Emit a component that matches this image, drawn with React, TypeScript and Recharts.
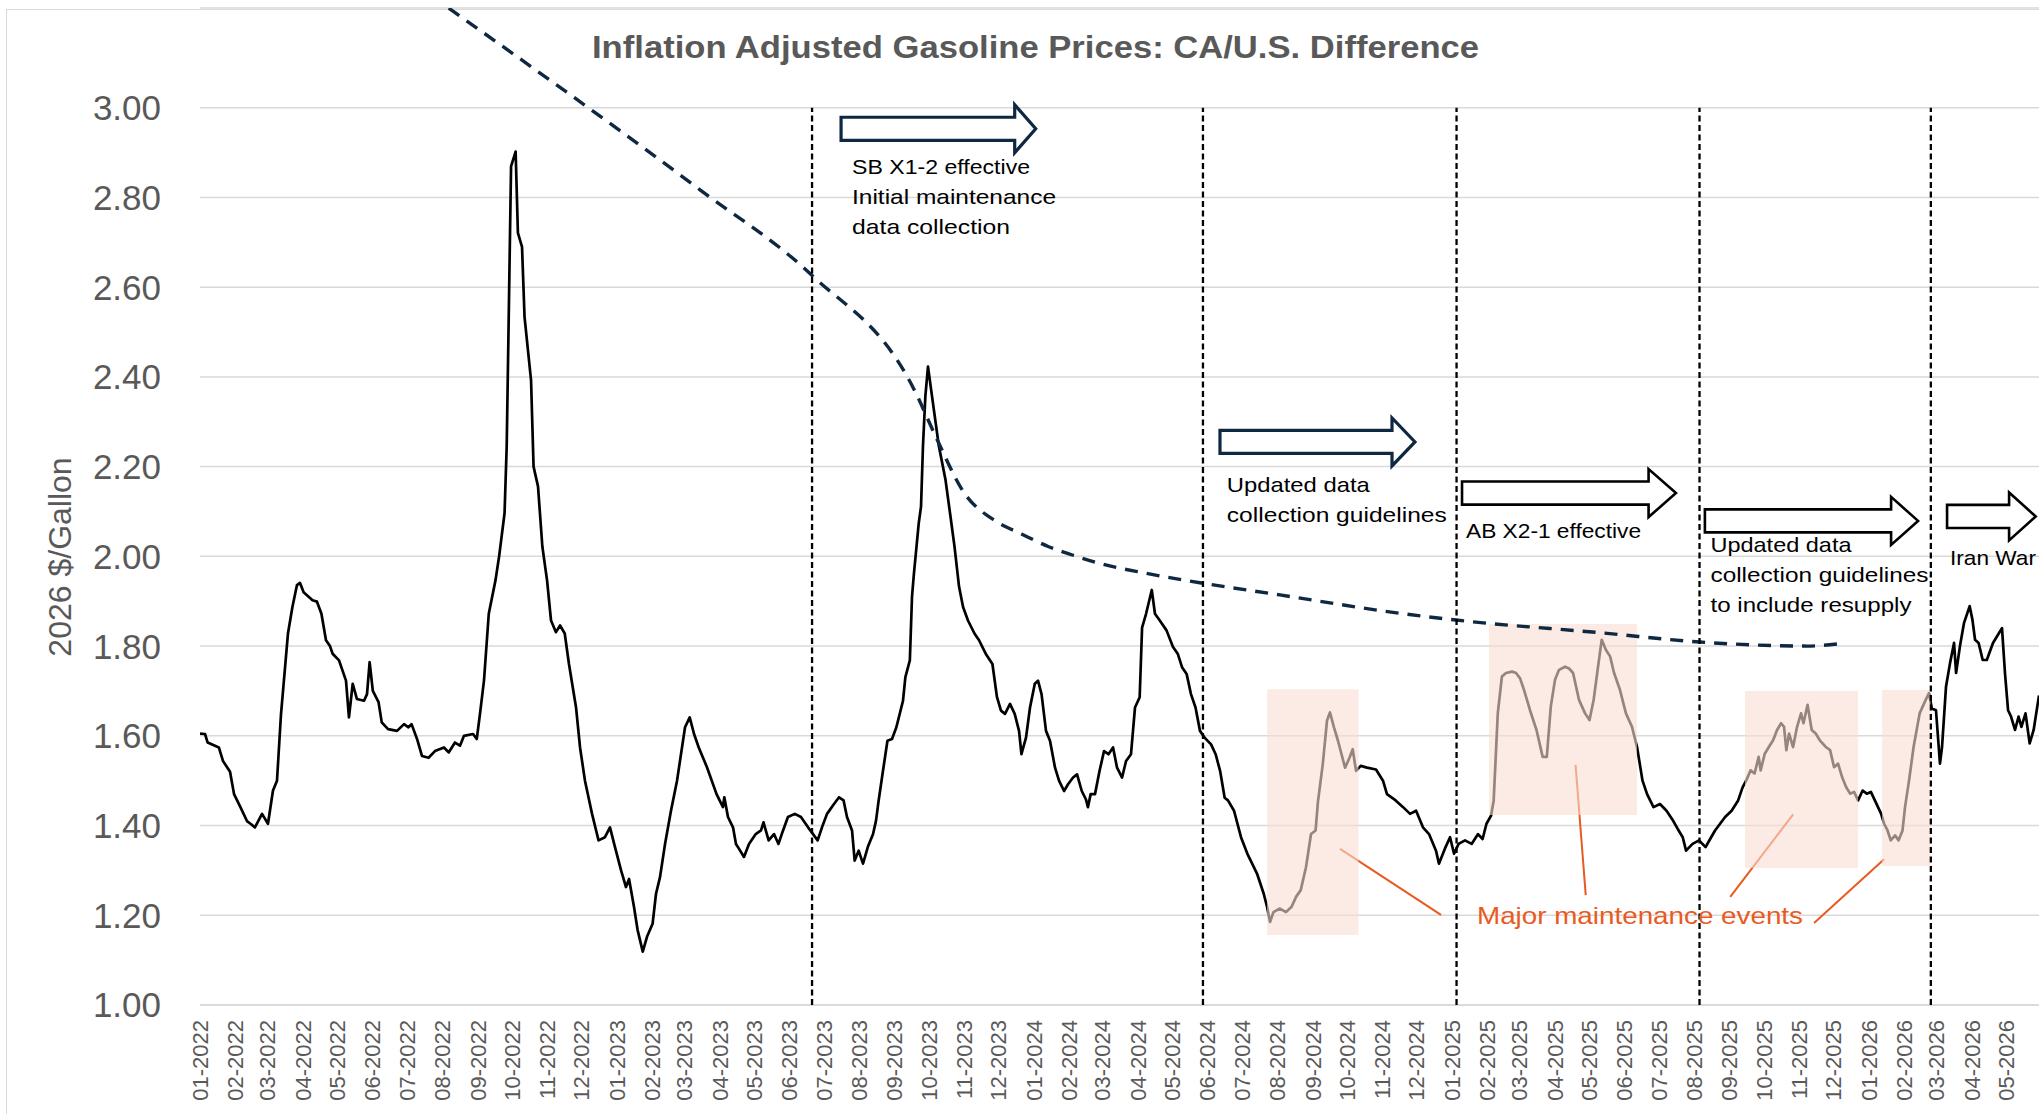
import React from "react";
import {
  LineChart,
  Line,
  XAxis,
  YAxis,
  CartesianGrid,
  ReferenceLine,
  ReferenceArea,
  ReferenceDot,
} from "recharts";

// x values are days since 2022-01-01
const gapDays = [
  0, 4.4, 6.7, 16.5, 20.1, 26.3, 29.8, 35.6, 41.1, 44.2, 48.1, 54.3, 59.5, 63.9, 67.4, 70.9, 77, 80.9, 84.9, 87.5,
  90.7, 98.5, 102.4, 106.3, 110.3, 113.8, 116.1, 121.7, 127.8, 130.4, 133.7, 137.4, 143.6, 146.2, 148.5, 151.3,
  156.3, 159.1, 164.6, 172.5, 178.6, 182.5, 185.2, 190, 194.3, 200.1, 205.7, 213.6, 217.7, 223.2, 227.6, 231.1,
  239, 242.3, 245.1, 248.6, 252.8, 258.7, 261.8, 266.6, 268.5, 270.5, 272.3, 276.3, 278.3, 281.9, 284.1, 289.8,
  292, 295.9, 299.7, 303.8, 307.3, 311.6, 315.2, 319.3, 323, 329.2, 332.7, 337, 343.2, 348.9, 354.5, 358.9,
  363.3, 368.6, 372.9, 375.6, 379.9, 383.1, 387.6, 391.3, 396.2, 399.2, 402.7, 407.1, 412.3, 417.6, 424.6, 428.7,
  432.5, 436.6, 443.8, 452.2, 457.8, 459, 462.2, 466.6, 469.2, 471.9, 476.2, 480.6, 486.5, 491.1, 493.3, 497.8,
  502.5, 506.4, 509.3, 514.7, 520.7, 526.1, 532.3, 536.6, 540.7, 544.5, 548.9, 555, 559.4, 563.4, 566.4, 570.8,
  573.1, 576.6, 580.4, 584.6, 589.2, 591.8, 594, 597.9, 601.8, 605.8, 609.6, 615.4, 617.5, 621.4, 623.3, 625,
  629.2, 631.2, 632.9, 635, 637.3, 640.8, 646.8, 652.6, 656.6, 660.5, 664.5, 668, 672.3, 678, 682, 687.8, 693.7,
  697.7, 701.2, 704.7, 709.1, 713.2, 717, 719.1, 723.1, 726.6, 730.8, 733.6, 736.7, 740.6, 744.1, 748.5, 752,
  756.4, 759.9, 764.3, 767.8, 771.9, 775.6, 777.3, 779.7, 783.5, 787.5, 791.4, 795.3, 799.3, 802.8, 807.2, 810.7,
  815, 818.5, 822.6, 824.7, 828.2, 833.2, 836, 840.2, 846.1, 851.8, 855.9, 859.7, 863.7, 867.5, 871.5, 875.4,
  879.4, 885.1, 889.1, 893, 897, 899.9, 905.2, 911.3, 916.9, 919.8, 925.3, 931.2, 934.1, 936.7, 939.7, 945.4,
  950.7, 955.6, 959.5, 963.6, 968.2, 972.6, 976.6, 978.7, 982.9, 986.6, 989.2, 992.7, 996.2, 1002.4, 1006.3,
  1009.1, 1012, 1016.1, 1021.6, 1029.5, 1035.6, 1039.1, 1046.7, 1053.2, 1059.3, 1064.6, 1070.6, 1075.9, 1082,
  1084.6, 1090.4, 1094.3, 1097.8, 1101.8, 1107.4, 1113.2, 1118.8, 1122.8, 1126.2, 1130.2, 1132.5, 1136.1, 1139.7,
  1143.3, 1148.6, 1152.1, 1155.6, 1159.1, 1164.3, 1170, 1175.4, 1179, 1182.5, 1186.2, 1189.7, 1195, 1198.5, 1202,
  1207.2, 1212.5, 1216.4, 1220, 1223.5, 1227.1, 1230.7, 1234.4, 1237.9, 1243.1, 1248.3, 1253.6, 1258, 1262.8,
  1266.8, 1272.4, 1278.1, 1283.8, 1289.5, 1293.5, 1298, 1300.9, 1306.6, 1312.3, 1318, 1322, 1326.3, 1330.7, 1335.1,
  1340.8, 1346.5, 1350.4, 1353.5, 1357.4, 1360.9, 1364.5, 1366.2, 1369.8, 1373.4, 1377.1, 1380.6, 1384.1, 1386.7,
  1388.7, 1391.1, 1394.6, 1398.1, 1401.6, 1403.7, 1407.3, 1410.9, 1414.4, 1418, 1423.3, 1427, 1430.5, 1434, 1437.5,
  1441, 1444.5, 1448, 1451.5, 1455.5, 1459.1, 1462.7, 1466.2, 1471.7, 1474.3, 1477.3, 1480.1, 1483.9, 1487, 1490.4,
  1492.6, 1496.1, 1500.1, 1505.4, 1510.7, 1513.6, 1516.1, 1519.7, 1523.2, 1525, 1528.5, 1532, 1535.5, 1537.3,
  1540.7, 1544.2, 1549.2, 1551.6, 1553.9, 1557, 1560.6, 1564.2, 1569.6, 1574.9, 1577.5, 1580.1, 1582.8, 1585.4,
  1588.9, 1592, 1594.5, 1598.1, 1601.7, 1605.2, 1609.9,
];

// CA minus U.S. retail gasoline price, 2026 $/gallon
const gapValues = [
  1.605, 1.604, 1.585, 1.574, 1.544, 1.52, 1.47, 1.44, 1.41, 1.404, 1.396, 1.426, 1.404, 1.478, 1.5, 1.648, 1.828,
  1.887, 1.936, 1.941, 1.92, 1.902, 1.899, 1.872, 1.813, 1.8, 1.783, 1.768, 1.723, 1.641, 1.716, 1.682, 1.678, 1.693,
  1.764, 1.7, 1.675, 1.63, 1.615, 1.611, 1.626, 1.619, 1.626, 1.593, 1.555, 1.551, 1.566, 1.574, 1.563, 1.585, 1.578,
  1.6, 1.604, 1.593, 1.649, 1.723, 1.872, 1.947, 1.999, 2.096, 2.246, 2.572, 2.869, 2.902, 2.721, 2.69, 2.534, 2.393,
  2.2, 2.156, 2.022, 1.947, 1.857, 1.831, 1.846, 1.828, 1.76, 1.663, 1.574, 1.5, 1.426, 1.367, 1.374, 1.396, 1.352,
  1.3, 1.263, 1.281, 1.219, 1.167, 1.119, 1.152, 1.181, 1.248, 1.285, 1.359, 1.433, 1.5, 1.619, 1.641, 1.604, 1.574,
  1.53, 1.47, 1.441, 1.463, 1.419, 1.396, 1.359, 1.348, 1.33, 1.359, 1.381, 1.389, 1.407, 1.367, 1.381, 1.359, 1.381,
  1.419, 1.426, 1.419, 1.396, 1.381, 1.367, 1.396, 1.426, 1.448, 1.463, 1.456, 1.419, 1.389, 1.322, 1.344, 1.315,
  1.352, 1.381, 1.411, 1.454, 1.522, 1.589, 1.593, 1.619, 1.678, 1.731, 1.768, 1.91, 1.962, 2.074, 2.111, 2.246,
  2.357, 2.423, 2.357, 2.246, 2.171, 2.096, 2.022, 1.932, 1.887, 1.857, 1.828, 1.813, 1.783, 1.76, 1.686, 1.656,
  1.649, 1.671, 1.649, 1.611, 1.559, 1.596, 1.663, 1.716, 1.723, 1.693, 1.611, 1.589, 1.529, 1.5, 1.477, 1.492,
  1.507, 1.514, 1.477, 1.458, 1.441, 1.47, 1.47, 1.522, 1.566, 1.559, 1.574, 1.529, 1.507, 1.544, 1.559, 1.663,
  1.686, 1.841, 1.872, 1.925, 1.872, 1.857, 1.835, 1.798, 1.783, 1.753, 1.738, 1.693, 1.663, 1.611, 1.596, 1.581,
  1.559, 1.522, 1.462, 1.456, 1.433, 1.374, 1.337, 1.322, 1.293, 1.248, 1.219, 1.185, 1.207, 1.215, 1.207, 1.219,
  1.241, 1.256, 1.307, 1.381, 1.389, 1.454, 1.537, 1.634, 1.652, 1.619, 1.589, 1.529, 1.551, 1.57, 1.522, 1.533,
  1.529, 1.525, 1.5, 1.47, 1.456, 1.441, 1.426, 1.433, 1.396, 1.381, 1.344, 1.315, 1.352, 1.374, 1.337, 1.359,
  1.367, 1.359, 1.381, 1.37, 1.404, 1.422, 1.456, 1.65, 1.732, 1.74, 1.743, 1.74, 1.728, 1.702, 1.657, 1.613, 1.553,
  1.553, 1.665, 1.725, 1.747, 1.754, 1.75, 1.74, 1.68, 1.65, 1.635, 1.68, 1.747, 1.814, 1.792, 1.777, 1.74, 1.702,
  1.65, 1.62, 1.575, 1.5, 1.47, 1.441, 1.448, 1.433, 1.411, 1.393, 1.374, 1.344, 1.359, 1.367, 1.352, 1.37, 1.389,
  1.404, 1.419, 1.433, 1.456, 1.485, 1.5, 1.523, 1.516, 1.553, 1.523, 1.56, 1.575, 1.59, 1.613, 1.628, 1.62, 1.568,
  1.605, 1.575, 1.62, 1.65, 1.628, 1.669, 1.613, 1.605, 1.59, 1.575, 1.568, 1.53, 1.538, 1.508, 1.486, 1.471, 1.475,
  1.456, 1.478, 1.471, 1.475, 1.456, 1.426, 1.404, 1.389, 1.367, 1.378, 1.367, 1.389, 1.441, 1.5, 1.575, 1.65, 1.68,
  1.695, 1.661, 1.657, 1.538, 1.575, 1.71, 1.762, 1.807, 1.74, 1.8, 1.851, 1.889, 1.859, 1.814, 1.807, 1.769, 1.769,
  1.807, 1.829, 1.84, 1.74, 1.657, 1.643, 1.613, 1.643, 1.62, 1.65, 1.583, 1.613, 1.69,
];

// hand-drawn downward trend curve
const trendDays = [
  217.7, 437.7, 535.4, 625.3, 644.8, 668.3, 697.6, 719.1, 742.5, 766, 789.4, 828.5, 878, 945.4, 1050.5, 1099.6,
  1229.1, 1313.1, 1406.8, 1437.4,
];
const trendValues = [
  3.222, 2.817, 2.627, 2.371, 2.263, 2.144, 2.077, 2.05, 2.022, 2.001, 1.983, 1.962, 1.94, 1.914, 1.873, 1.858,
  1.829, 1.809, 1.8, 1.806,
];

const policyDays = [535.8, 878, 1100, 1312.7, 1515.2];

const maintenanceWindows = [
  { from: 934.1, to: 1014.2, low: 1.156, high: 1.704 },
  { from: 1128.4, to: 1258, low: 1.4235, high: 1.849 },
  { from: 1352.5, to: 1451.5, low: 1.3054, high: 1.7 },
  { from: 1472.5, to: 1514.9, low: 1.3098, high: 1.702 },
];

const pointers = [
  { d1: 998, v1: 1.348, d2: 1086.4, v2: 1.201 },
  { d1: 1204.2, v1: 1.535, d2: 1213.1, v2: 1.245 },
  { d1: 1394.7, v1: 1.425, d2: 1339.6, v2: 1.241 },
  { d1: 1474.3, v1: 1.325, d2: 1413, v2: 1.183 },
];

const arrows = [
  { from: 561.2, headAt: 713.2, to: 731.6, level: 2.953, heavy: true },
  { from: 892.9, headAt: 1043.5, to: 1063.6, level: 2.255, heavy: true },
  { from: 1104.8, headAt: 1268.1, to: 1292.1, level: 2.141, heavy: false },
  { from: 1317.4, headAt: 1480.4, to: 1504, level: 2.079, heavy: false },
  { from: 1529.4, headAt: 1583.7, to: 1607, level: 2.089, heavy: false },
];

const notes = [
  { day: 570.8, level: 2.852, lines: ["SB X1-2 effective", "Initial maintenance", "data collection"], widths: [178, 204, 158] },
  { day: 898.9, level: 2.144, lines: ["Updated data", "collection guidelines"], widths: [143, 220] },
  { day: 1108.3, level: 2.04, lines: ["AB X2-1 effective"], widths: [175] },
  { day: 1322.3, level: 2.01, lines: ["Updated data", "collection guidelines", "to include resupply"], widths: [141, 218, 201] },
  { day: 1532, level: 1.981, lines: ["Iran War"], widths: [86] },
];

const maintenanceLabel = { day: 1117.9, level: 1.1805, text: "Major maintenance events", width: 326 };

const yTicks = [1, 1.2, 1.4, 1.6, 1.8, 2, 2.2, 2.4, 2.6, 2.8, 3];

const START = Date.UTC(2022, 0, 1);
const DAY = 86400000;
const monthTicks: number[] = [];
for (let y = 2022; y <= 2026; y++) {
  for (let m = 0; m < 12; m++) {
    if (y === 2026 && m > 4) break;
    monthTicks.push((Date.UTC(y, m, 1) - START) / DAY);
  }
}

const FONT = "'Liberation Sans', Arial, sans-serif";
const GRAY = "#595959";
const ORANGE = "#e85a1e";
const NAVY = "#0e2841";
const ARROW_HALF = 0.0535;

const gapData = gapDays.map((d, i) => ({ day: d, gap: gapValues[i] }));
const trendData = trendDays.map((d, i) => ({ day: d, trend: trendValues[i] }));

const MonthTick = ({ x, y, payload }: any) => {
  const d = new Date(START + payload.value * DAY);
  const label = `${String(d.getUTCMonth() + 1).padStart(2, "0")}-${d.getUTCFullYear()}`;
  return (
    <text
      transform={`translate(${x},${y}) rotate(-90)`}
      textAnchor="end"
      dy="0.36em"
      fontSize={22}
      fontFamily={FONT}
      fill={GRAY}
    >
      {label}
    </text>
  );
};

const BlockArrow = ({ x, y, width, height, headShare, color, sw }: any) => {
  const cy = y + height / 2;
  const bh = height * 0.24;
  const xt = x + width;
  const xh = xt - width * headShare;
  const pts = [
    [x, cy - bh],
    [xh, cy - bh],
    [xh, y],
    [xt, cy],
    [xh, y + height],
    [xh, cy + bh],
    [x, cy + bh],
  ]
    .map((p) => p.join(","))
    .join(" ");
  return <polygon points={pts} fill="#fff" stroke={color} strokeWidth={sw} strokeLinejoin="miter" />;
};

const NoteText = ({ cx, cy, lines, widths, color, size }: any) => (
  <g>
    {lines.map((t: string, i: number) => (
      <text
        key={i}
        x={cx}
        y={cy + i * 30}
        fontSize={size}
        fontFamily={FONT}
        fill={color}
        textLength={widths[i]}
        lengthAdjust="spacingAndGlyphs"
      >
        {t}
      </text>
    ))}
  </g>
);

export default function App() {
  return (
    <div
      style={{
        position: "absolute",
        left: 0,
        top: 0,
        width: 2039,
        height: 1114,
        overflow: "hidden",
        background: "#fff",
      }}
    >
      <div
        style={{
          position: "absolute",
          left: 6,
          top: 9,
          width: 2200,
          height: 1300,
          border: "1.5px solid #d9d9d9",
        }}
      />
      <div style={{ position: "absolute", left: 0, top: 0 }}>
        <LineChart width={2100} height={1114} margin={{ top: 8, right: 26.6, bottom: 0, left: 0 }}>
          <CartesianGrid horizontal vertical={false} stroke="#d9d9d9" strokeWidth={1.5} />
          <XAxis
            type="number"
            dataKey="day"
            domain={[0, 1640]}
            allowDataOverflow
            ticks={monthTicks}
            interval={0}
            tick={<MonthTick />}
            tickLine={false}
            tickSize={0}
            tickMargin={15}
            height={109}
            axisLine={{ stroke: "#d9d9d9", strokeWidth: 1.5 }}
          />
          <YAxis
            type="number"
            domain={[1, 3.2222]}
            allowDataOverflow
            ticks={yTicks}
            interval={0}
            width={200}
            tickLine={false}
            axisLine={false}
            tickSize={0}
            tickMargin={39}
            tickFormatter={(v: number) => v.toFixed(2)}
            tick={{ fontSize: 35, fill: GRAY, fontFamily: FONT }}
          />
          <Line
            data={gapData}
            dataKey="gap"
            type="linear"
            stroke="#000"
            strokeWidth={2.7}
            strokeLinejoin="round"
            dot={false}
            activeDot={false}
            isAnimationActive={false}
            zIndex={400}
          />
          {pointers.map((p, i) => (
            <ReferenceLine
              key={`p${i}`}
              segment={[
                { x: p.d1, y: p.v1 },
                { x: p.d2, y: p.v2 },
              ]}
              stroke={ORANGE}
              strokeWidth={2}
              ifOverflow="visible"
              zIndex={450}
            />
          ))}
          {maintenanceWindows.map((w, i) => (
            <ReferenceArea
              key={`w${i}`}
              x1={w.from}
              x2={w.to}
              y1={w.low}
              y2={w.high}
              fill="#f8ded2"
              fillOpacity={0.6}
              stroke="none"
              ifOverflow="visible"
              zIndex={500}
            />
          ))}
          <Line
            data={trendData}
            dataKey="trend"
            type="monotone"
            stroke={NAVY}
            strokeWidth={3.4}
            strokeDasharray="13 9"
            dot={false}
            activeDot={false}
            isAnimationActive={false}
            zIndex={600}
          />
          {policyDays.map((d, i) => (
            <ReferenceLine
              key={`v${i}`}
              segment={[
                { x: d, y: 1 },
                { x: d, y: 3 },
              ]}
              stroke="#000"
              strokeWidth={2.3}
              strokeDasharray="6 3.5"
              ifOverflow="visible"
              zIndex={650}
            />
          ))}
          {arrows.map((a, i) => (
            <ReferenceArea
              key={`a${i}`}
              x1={a.from}
              x2={a.to}
              y1={a.level - ARROW_HALF}
              y2={a.level + ARROW_HALF}
              ifOverflow="visible"
              zIndex={700}
              shape={(p: any) => (
                <BlockArrow
                  {...p}
                  headShare={(a.to - a.headAt) / (a.to - a.from)}
                  color={a.heavy ? NAVY : "#000"}
                  sw={a.heavy ? 3.2 : 2.6}
                />
              )}
            />
          ))}
          {notes.map((n, i) => (
            <ReferenceDot
              key={`n${i}`}
              x={n.day}
              y={n.level}
              r={0}
              ifOverflow="visible"
              zIndex={800}
              shape={(p: any) => (
                <NoteText cx={p.cx} cy={p.cy} lines={n.lines} widths={n.widths} color="#000" size={21} />
              )}
            />
          ))}
          <ReferenceDot
            x={maintenanceLabel.day}
            y={maintenanceLabel.level}
            r={0}
            ifOverflow="visible"
            zIndex={800}
            shape={(p: any) => (
              <NoteText
                cx={p.cx}
                cy={p.cy}
                lines={[maintenanceLabel.text]}
                widths={[maintenanceLabel.width]}
                color={ORANGE}
                size={24}
              />
            )}
          />
        </LineChart>
      </div>
      <svg
        width={2039}
        height={1114}
        style={{ position: "absolute", left: 0, top: 0, pointerEvents: "none" }}
      >
        <text
          x={592}
          y={58}
          fontSize={32}
          fontWeight="bold"
          fontFamily={FONT}
          fill={GRAY}
          textLength={887}
          lengthAdjust="spacingAndGlyphs"
        >
          Inflation Adjusted Gasoline Prices: CA/U.S. Difference
        </text>
        <text
          transform="translate(71,557) rotate(-90)"
          textAnchor="middle"
          fontSize={32}
          fontFamily={FONT}
          fill={GRAY}
        >
          2026 $/Gallon
        </text>
      </svg>
    </div>
  );
}
